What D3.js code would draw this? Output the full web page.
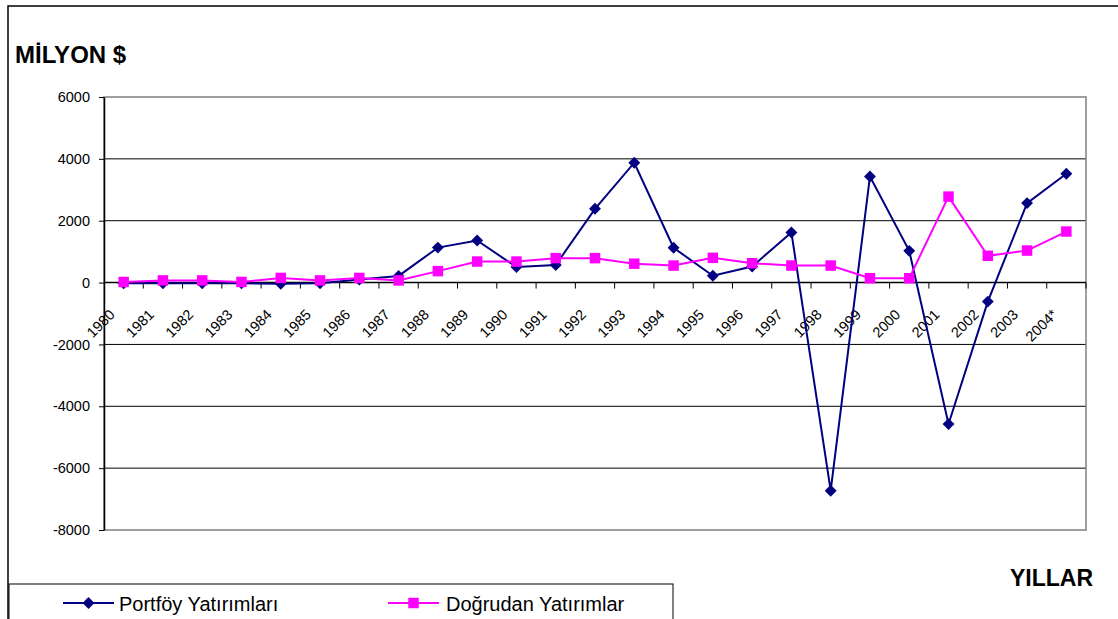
<!DOCTYPE html>
<html>
<head>
<meta charset="utf-8">
<script src="https://cdn.jsdelivr.net/npm/d3@7"></script>
<style>
  html, body { margin: 0; padding: 0; background: #fff; }
  svg { display: block; font-family: Arial, "Liberation Sans", sans-serif; }
</style>
</head>
<body>
<svg id="chart" width="1118" height="619"></svg>
<script>
// years on the category axis
const years = ["1980","1981","1982","1983","1984","1985","1986","1987","1988","1989",
  "1990","1991","1992","1993","1994","1995","1996","1997","1998","1999",
  "2000","2001","2002","2003","2004*"];

// Portföy Yatırımları (million $)
const portfoy = [-20, -20, -20, -20, -40, -20, 100, 215, 1130, 1360,
  500, 570, 2385, 3875, 1125, 220, 520, 1620, -6730, 3430,
  1025, -4575, -615, 2570, 3520];

// Doğrudan Yatırımlar (million $)
const dogrudan = [18, 70, 70, 20, 150, 70, 150, 70, 370, 680,
  680, 790, 790, 610, 550, 800, 625, 550, 550, 140,
  140, 2780, 865, 1035, 1650];

const yTicks = [-8000, -6000, -4000, -2000, 0, 2000, 4000, 6000];
const seriesNames = ["Portföy Yatırımları", "Doğrudan Yatırımlar"];
const seriesColors = ["#000080", "#ff00ff"];

////////////////////////////////////////////
// SCALES
////////////////////////////////////////////

let svg = d3.select("#chart");
let plot = {left: 104, right: 1086, top: 97, bottom: 530};
let tickFont = 14.5;

let x = d3.scaleBand().domain(years).range([plot.left, plot.right]).padding(0);
let y = d3.scaleLinear().domain([-8000, 6000]).range([plot.bottom, plot.top]);

// outer chart frame
svg.append("path")
  .attr("d", "M8,640 L8,6 L1130,6")
  .attr("fill", "none")
  .attr("stroke", "#000")
  .attr("stroke-width", 1.5);

// title
svg.append("text")
  .attr("x", 15).attr("y", 63)
  .attr("font-size", 24).attr("font-weight", "bold")
  .text("MİLYON $");

svg.append("text")
  .attr("x", 1093).attr("y", 586)
  .attr("text-anchor", "end")
  .attr("font-size", 23).attr("font-weight", "bold")
  .text("YILLAR");

////////////////////////////////////////////
// GRID + FRAME
////////////////////////////////////////////

svg.append("g")
  .selectAll("line")
  .data(yTicks.filter(d => d !== 6000 && d !== -8000 && d !== 0))
  .join("line")
  .attr("x1", plot.left).attr("x2", plot.right)
  .attr("y1", d => y(d)).attr("y2", d => y(d))
  .attr("stroke", "#000").attr("stroke-width", 1);

svg.append("rect")
  .attr("x", plot.left).attr("y", plot.top)
  .attr("width", plot.right - plot.left).attr("height", plot.bottom - plot.top)
  .attr("fill", "none").attr("stroke", "#808080").attr("stroke-width", 1.5);

// y axis
let yAxis = svg.append("g")
  .attr("transform", `translate(${plot.left},0)`)
  .attr("font-size", tickFont)
  .call(d3.axisLeft(y).tickValues(yTicks).tickSize(5).tickSizeOuter(0).tickPadding(9)
    .tickFormat(d => String(d)));
yAxis.attr("font-size", tickFont).attr("font-family", "Arial, 'Liberation Sans', sans-serif");
yAxis.select(".domain").attr("stroke", "#000").attr("stroke-width", 1.5);
yAxis.selectAll("text").attr("fill", "#000");

// zero (category) axis
let y0 = y(0);
svg.append("line")
  .attr("x1", plot.left).attr("x2", plot.right)
  .attr("y1", y0).attr("y2", y0)
  .attr("stroke", "#000").attr("stroke-width", 1.5);

svg.append("g")
  .selectAll("line")
  .data(years.slice(1).concat(["end"]))
  .join("line")
  .attr("x1", d => d === "end" ? plot.right : x(d))
  .attr("x2", d => d === "end" ? plot.right : x(d))
  .attr("y1", y0).attr("y2", y0 + 6)
  .attr("stroke", "#000").attr("stroke-width", 1);

svg.append("g")
  .selectAll("text")
  .data(years)
  .join("text")
  .attr("transform", d => `translate(${x(d) + x.bandwidth() / 2 - 8},${y0 + 33}) rotate(-45)`)
  .attr("text-anchor", "end")
  .attr("font-size", tickFont)
  .text(d => d);

////////////////////////////////////////////
// SERIES
////////////////////////////////////////////

let cx = d => x(d) + x.bandwidth() / 2;
let line = d3.line().x(d => cx(d[0])).y(d => y(d[1]));

let diamond = d3.symbol().type(d3.symbolDiamond2).size(90);
let square = d3.symbol().type(d3.symbolSquare).size(110);

[portfoy, dogrudan].forEach((vals, i) => {
  let pts = years.map((yr, j) => [yr, vals[j]]);
  let g = svg.append("g");
  g.append("path")
    .attr("d", line(pts))
    .attr("fill", "none")
    .attr("stroke", seriesColors[i])
    .attr("stroke-width", 2);
  g.selectAll("path.mk")
    .data(pts)
    .join("path")
    .attr("class", "mk")
    .attr("transform", d => `translate(${cx(d[0])},${y(d[1])})`)
    .attr("d", i === 0 ? diamond : square)
    .attr("fill", seriesColors[i]);
});

////////////////////////////////////////////
// LEGEND
////////////////////////////////////////////

svg.append("rect")
  .attr("x", 9).attr("y", 584).attr("width", 664).attr("height", 60)
  .attr("fill", "#fff").attr("stroke", "#000").attr("stroke-width", 1);

let legendX = [63, 388];
seriesNames.forEach((name, i) => {
  let g = svg.append("g").attr("transform", `translate(${legendX[i]},603)`);
  g.append("line")
    .attr("x1", 0).attr("x2", 51).attr("y1", 0).attr("y2", 0)
    .attr("stroke", seriesColors[i]).attr("stroke-width", 2);
  g.append("path")
    .attr("transform", "translate(25.5,0)")
    .attr("d", i === 0 ? diamond : square)
    .attr("fill", seriesColors[i]);
  g.append("text")
    .attr("x", i === 0 ? 56 : 58).attr("y", 8)
    .attr("font-size", 20)
    .text(name);
});
</script>
</body>
</html>
